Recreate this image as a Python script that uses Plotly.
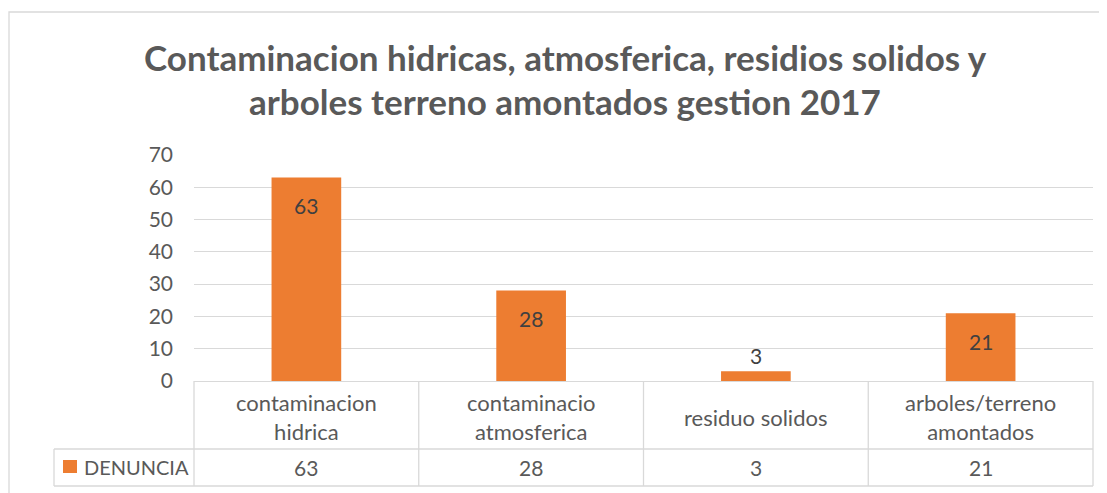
import plotly.graph_objects as go

# ---- data ----
categories = ["contaminacion hidrica", "contaminacio atmosferica", "residuo solidos", "arboles/terreno amontados"]
category_labels = ["contaminacion<br>hidrica", "contaminacio<br>atmosferica", "residuo solidos", "arboles/terreno<br>amontados"]
series_name = "DENUNCIA"
denuncia = [63, 28, 3, 21]
y_ticks = [0, 10, 20, 30, 40, 50, 60, 70]
title_lines = ["Contaminacion hidricas, atmosferica, residios solidos y",
               "arboles terreno amontados gestion 2017"]

# ---- layout geometry (pixels, in page coordinates) ----
OFF = 8                     # default body margin of the html page
W, H = 1107 - OFF, 493 - OFF
PL, PR = 194, 1093          # plot area left/right
PT, PB = 155, 381           # plot area top (70) / bottom (0)
pw, ph = PR - PL, PB - PT

def px(x):
    return (x - PL) / pw

def py(y):
    return (PB - y) / ph

BAR = "#ED7D31"
GRID = "#D9D9D9"
TXT = "#595959"
FONT = "Lato"

fig = go.Figure()
fig.add_trace(go.Bar(
    x=categories, y=denuncia, name=series_name,
    marker=dict(color=BAR, line=dict(width=0)),
    width=0.31, hoverinfo="x+y",
))

shapes = []
annotations = []

# outer chart border (left and top edges; the rest lies outside the window)
bx0, by0, bx1, by1 = px(9), py(12), px(1140), py(520)
shapes.append(dict(type="path", xref="paper", yref="paper",
                   path=f"M {bx0},{by1} L {bx0},{by0} L {bx1},{by0}",
                   line=dict(color=GRID, width=1.3), layer="below"))

# title
for i, line in enumerate(title_lines):
    annotations.append(dict(text="<b>" + line + "</b>", xref="paper", yref="paper",
                            x=px(565), y=py(57 + i * 44), xanchor="center", yanchor="middle",
                            showarrow=False, font=dict(family=FONT, size=35, color=TXT)))

# data labels
for c, v in zip(categories, denuncia):
    hpx = v * ph / 70
    shift = -28 if hpx > 40 else 16
    annotations.append(dict(text=str(v), x=c, y=v, xref="x", yref="y",
                            yshift=shift, showarrow=False, yanchor="middle",
                            font=dict(family=FONT, size=21, color="#404040")))

# data table
n = len(categories)
cw = pw / n
ROW1_BOTTOM, ROW2_BOTTOM, LEG_LEFT = 449, 486, 54
for i in range(n + 1):
    x = PL + i * cw
    shapes.append(dict(type="line", xref="paper", yref="paper",
                       x0=px(x), x1=px(x), y0=py(PB), y1=py(ROW2_BOTTOM),
                       line=dict(color=GRID, width=1.3)))
for yy in (ROW1_BOTTOM, ROW2_BOTTOM):
    shapes.append(dict(type="line", xref="paper", yref="paper",
                       x0=px(LEG_LEFT), x1=px(PR), y0=py(yy), y1=py(yy),
                       line=dict(color=GRID, width=1.3)))
shapes.append(dict(type="line", xref="paper", yref="paper",
                   x0=px(LEG_LEFT), x1=px(LEG_LEFT), y0=py(ROW1_BOTTOM), y1=py(ROW2_BOTTOM),
                   line=dict(color=GRID, width=1.3)))

for i, (lab, v) in enumerate(zip(category_labels, denuncia)):
    cx = PL + (i + 0.5) * cw
    annotations.append(dict(text=lab, xref="paper", yref="paper", x=px(cx),
                            y=py((PB + ROW1_BOTTOM) / 2 + 2), xanchor="center", yanchor="middle",
                            showarrow=False, align="center",
                            font=dict(family=FONT, size=22, color=TXT)))
    annotations.append(dict(text=str(v), xref="paper", yref="paper", x=px(cx),
                            y=py((ROW1_BOTTOM + ROW2_BOTTOM) / 2), xanchor="center", yanchor="middle",
                            showarrow=False, font=dict(family=FONT, size=21, color=TXT)))

# legend key in table
shapes.append(dict(type="rect", xref="paper", yref="paper",
                   x0=px(63), x1=px(77), y0=py(473), y1=py(460),
                   fillcolor=BAR, line=dict(width=0)))
annotations.append(dict(text=series_name, xref="paper", yref="paper", x=px(82),
                        y=py(467), xanchor="left", yanchor="middle", showarrow=False,
                        font=dict(family=FONT, size=20, color=TXT)))

fig.update_layout(
    width=W, height=H,
    margin=dict(l=PL - OFF, r=W - (PR - OFF), t=PT - OFF, b=H - (PB - OFF), pad=0),
    paper_bgcolor="white", plot_bgcolor="white",
    showlegend=False,
    bargap=0.69,
    shapes=shapes, annotations=annotations,
    xaxis=dict(showticklabels=False, showgrid=False, zeroline=False, showline=False,
               ticks="", fixedrange=True),
    yaxis=dict(range=[0, 70], tickvals=y_ticks, showgrid=True, gridcolor=GRID, gridwidth=1.3,
               zeroline=True, zerolinecolor=GRID, zerolinewidth=1.3, showline=False,
               ticks="", ticklabelstandoff=20,
               tickfont=dict(family=FONT, size=21, color=TXT), fixedrange=True),
    font=dict(family=FONT, color=TXT),
)

fig.write_html("out.html")
